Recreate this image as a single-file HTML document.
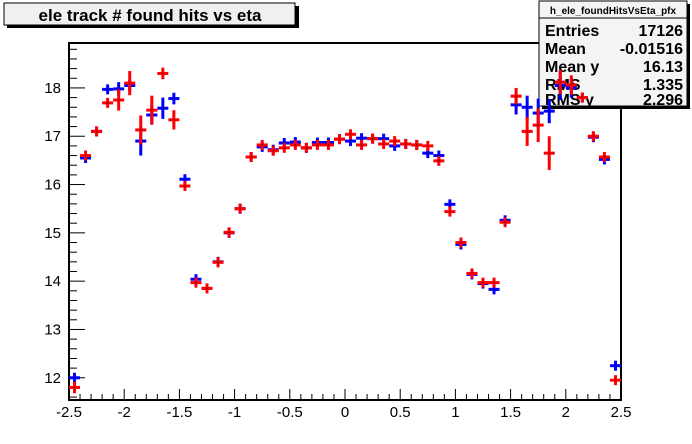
<!DOCTYPE html>
<html><head><meta charset="utf-8"><style>
body{margin:0;background:#fff;}
svg{display:block;font-family:"Liberation Sans",Arial,sans-serif;}
</style></head><body>
<svg id="c" width="692" height="444" viewBox="0 0 692 444">
<rect x="0" y="0" width="692" height="444" fill="#fff"/>
<g>
<rect x="7" y="6" width="292" height="22" fill="#000"/>
<rect x="4" y="3" width="291" height="22" fill="#f0f0f0" stroke="#000" stroke-width="1"/>
<text x="150" y="21" text-anchor="middle" font-size="17" font-weight="bold">ele track # found hits vs eta</text>
</g>
<rect x="69" y="43" width="552" height="357" fill="none" stroke="#000" stroke-width="2"/>
<g id="axes"></g>
<g>
<rect x="542" y="4" width="148" height="105" fill="#000"/>
<rect x="539" y="1" width="148" height="105" fill="#f4f4f4" stroke="#000" stroke-width="1"/>
<line x1="539" y1="18" x2="687" y2="18" stroke="#000"/>
<text x="613" y="14" text-anchor="middle" font-size="10" font-weight="bold">h_ele_foundHitsVsEta_pfx</text>
<g font-size="16" font-weight="bold">
<text x="545" y="36">Entries</text><text x="683" y="36" text-anchor="end">17126</text>
<text x="545" y="54">Mean</text><text x="683" y="54" text-anchor="end">-0.01516</text>
<text x="545" y="72">Mean y</text><text x="683" y="72" text-anchor="end">16.13</text>
<text x="545" y="90">RMS</text><text x="683" y="90" text-anchor="end">1.335</text>
<text x="545" y="105">RMS y</text><text x="683" y="105" text-anchor="end">2.296</text>
</g>
</g>
<g id="marks"></g>
</svg>
<script>
const etaBins=[-2.45,-2.35,-2.25,-2.15,-2.05,-1.95,-1.85,-1.75,-1.65,-1.55,-1.45,-1.35,-1.25,-1.15,-1.05,-0.95,-0.85,-0.75,-0.65,-0.55,-0.45,-0.35,-0.25,-0.15,-0.05,0.05,0.15,0.25,0.35,0.45,0.55,0.65,0.75,0.85,0.95,1.05,1.15,1.25,1.35,1.45,1.55,1.65,1.75,1.85,1.95,2.05,2.15,2.25,2.35,2.45];
const blueVals=[12.0,16.55,17.1,17.97,17.98,18.05,16.9,17.44,17.58,17.78,16.11,14.04,13.85,14.4,15.0,15.5,16.57,16.78,16.72,16.86,16.88,16.76,16.87,16.87,16.94,16.9,16.96,16.95,16.95,16.8,16.84,16.82,16.65,16.6,15.59,14.76,14.14,13.95,13.83,15.26,17.65,17.6,17.48,17.52,18.05,18.0,17.8,16.98,16.52,12.25];
const blueErr=[0.08,0.08,0.04,0.1,0.14,0.12,0.3,0.2,0.22,0.12,0.08,0.05,0.04,0.05,0.04,0.04,0.04,0.04,0.04,0.04,0.04,0.04,0.04,0.04,0.04,0.04,0.04,0.04,0.04,0.04,0.04,0.04,0.04,0.04,0.06,0.05,0.04,0.04,0.06,0.08,0.2,0.24,0.3,0.25,0.3,0.2,0.1,0.06,0.08,0.1];
const redVals=[11.8,16.6,17.1,17.69,17.75,18.1,17.13,17.54,18.3,17.34,15.97,13.97,13.85,14.39,15.01,15.5,16.57,16.82,16.7,16.76,16.82,16.76,16.82,16.82,16.94,17.04,16.82,16.95,16.84,16.9,16.84,16.82,16.8,16.49,15.44,14.8,14.16,13.97,13.97,15.22,17.83,17.1,17.23,16.65,18.12,18.06,17.8,17.0,16.57,11.95];
const redErr=[0.12,0.1,0.04,0.08,0.22,0.25,0.3,0.3,0.12,0.2,0.1,0.06,0.04,0.05,0.04,0.04,0.04,0.04,0.04,0.04,0.04,0.04,0.04,0.04,0.04,0.04,0.04,0.04,0.04,0.04,0.04,0.04,0.04,0.05,0.06,0.05,0.04,0.04,0.06,0.08,0.17,0.3,0.35,0.35,0.25,0.2,0.04,0.06,0.1,0.1];
const xTicks=[-2.5,-2,-1.5,-1,-0.5,0,0.5,1,1.5,2,2.5];
const xTickLabels=["-2.5","-2","-1.5","-1","-0.5","0","0.5","1","1.5","2","2.5"];
const yTicks=[12,13,14,15,16,17,18];
const yTickLabels=["12","13","14","15","16","17","18"];

const NS="http://www.w3.org/2000/svg";
const X0=69,X1=621,Y0=400,Y1=43;
const xmin=-2.5,xmax=2.5,ymin=11.54,ymax=18.93;
const binW=0.1;
function xs(v){return X0+(v-xmin)/(xmax-xmin)*(X1-X0);}
function ys(v){return Y0-(v-ymin)/(ymax-ymin)*(Y0-Y1);}
function mk(tag,attrs,parent){const e=document.createElementNS(NS,tag);for(const k in attrs)e.setAttribute(k,attrs[k]);parent.appendChild(e);return e;}
const axes=document.getElementById('axes');
for(let i=0;i<=50;i++){const v=xmin+i*0.1;const major=i%5===0;
 const t=mk('line',{x1:xs(v),x2:xs(v),y1:Y0,y2:Y0-(major?11:6),stroke:'#000','stroke-width':1},axes);
 
 }
xTicks.forEach((v,i)=>{const t=mk('text',{x:xs(v),y:417,'text-anchor':'middle','font-size':15},axes);t.textContent=xTickLabels[i];
 
 });
for(let v=11.6;v<=18.9;v+=0.2){const r=Math.round(v*10)/10;const major=Math.abs(r-Math.round(r))<0.01;
 const t=mk('line',{x1:X0,x2:X0+(major?16:8),y1:ys(r),y2:ys(r),stroke:'#000','stroke-width':1},axes);
 
 }
yTicks.forEach((v,i)=>{const t=mk('text',{x:61,y:ys(v)+5,'text-anchor':'end','font-size':15},axes);t.textContent=yTickLabels[i];
 
 });
const marks=document.getElementById('marks');
function series(vals,errs,color,name){
 const g=mk('g',{},marks);
 
 
 etaBins.forEach((b,i)=>{const cx=xs(b),cy=ys(vals[i]);
  const hw=Math.max(Math.abs(ys(vals[i]+errs[i])-cy),5);
  const p=mk('g',{},g);
  
  
  mk('line',{x1:xs(b-binW/2),x2:xs(b+binW/2),y1:cy,y2:cy,stroke:color,'stroke-width':3},p);
  mk('line',{x1:cx,x2:cx,y1:cy-hw,y2:cy+hw,stroke:color,'stroke-width':3},p);
  mk('rect',{x:cx-0.5,y:cy-0.5,width:1,height:1,fill:'#000'},p);
 });
}
series(blueVals,blueErr,'#0000ff','blue-series');
series(redVals,redErr,'#ff0000','red-series');
</script>
</body></html>
